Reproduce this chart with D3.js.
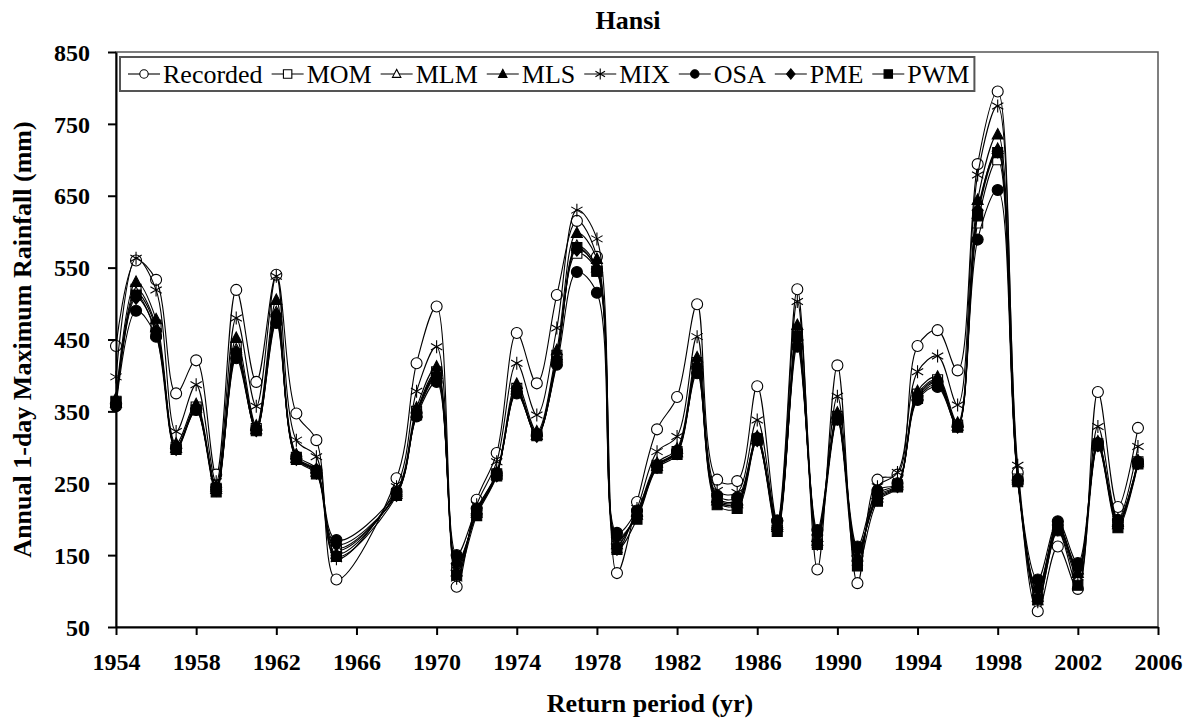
<!DOCTYPE html>
<html>
<head>
<meta charset="utf-8">
<script src="https://cdn.jsdelivr.net/npm/d3@7"></script>
<style>
    body { margin: 0; background: #fff; }
    svg, svg text { font-family: "Liberation Serif", "Times New Roman", serif; }
    .axis path, .axis line { stroke: #000; stroke-width: 2; }
    .axis text { font-family: "Liberation Serif", "Times New Roman", serif; font-size: 24px; font-weight: bold; fill: #000; }
    .series { fill: none; stroke: #000; stroke-width: 1.1; }
</style>
</head>
<body>
<svg id="chart" width="1190" height="721"></svg>
<script>
'use strict';

// years in the record (1966 and 1967 are missing)
const years = [1954, 1955, 1956, 1957, 1958, 1959, 1960, 1961, 1962, 1963, 1964, 1965,
    1968, 1969, 1970, 1971, 1972, 1973, 1974, 1975, 1976, 1977, 1978, 1979, 1980, 1981,
    1982, 1983, 1984, 1985, 1986, 1987, 1988, 1989, 1990, 1991, 1992, 1993, 1994, 1995,
    1996, 1997, 1998, 1999, 2000, 2001, 2002, 2003, 2004, 2005];

const recorded = [441, 560, 533, 375, 421, 262, 519, 391, 540, 347, 310, 116, 257, 417, 496, 106, 227, 292, 459, 389, 512, 615, 565, 125, 224, 325, 370, 499, 255, 253, 385, 198, 520, 130, 414, 111, 255, 262, 441, 463, 407, 694, 795, 265, 72, 162, 103, 377, 217, 327];
const mom = [364, 520, 470, 300, 356, 243, 440, 326, 492, 286, 267, 157, 236, 350, 405, 132, 210, 263, 382, 318, 428, 570, 545, 170, 207, 275, 294, 418, 228, 224, 312, 190, 458, 173, 343, 152, 232, 248, 374, 394, 331, 612, 700, 256, 98, 190, 128, 305, 194, 280];
const mlm = [362, 515, 467, 299, 355, 242, 436, 325, 488, 285, 266, 160, 235, 348, 402, 135, 209, 262, 380, 317, 425, 580, 550, 172, 206, 274, 293, 415, 226, 222, 311, 189, 455, 175, 341, 155, 230, 247, 372, 392, 330, 625, 715, 255, 100, 191, 130, 304, 193, 279];
const mls = [368, 530, 478, 305, 360, 245, 452, 330, 505, 290, 270, 152, 238, 355, 412, 127, 212, 265, 388, 322, 435, 598, 562, 165, 210, 278, 298, 425, 230, 226, 315, 192, 470, 170, 348, 148, 235, 250, 378, 398, 334, 644, 735, 258, 92, 188, 125, 308, 196, 282];
const mix = [398, 563, 519, 322, 387, 252, 480, 357, 538, 310, 287, 145, 245, 378, 440, 118, 220, 280, 417, 345, 466, 630, 590, 158, 215, 294, 315, 454, 240, 237, 338, 195, 503, 165, 371, 140, 245, 265, 405, 427, 359, 679, 775, 275, 85, 185, 120, 329, 200, 301];
const osa = [357, 490, 454, 300, 352, 244, 424, 325, 473, 287, 268, 171, 238, 343, 391, 150, 215, 264, 375, 318, 415, 544, 515, 181, 212, 275, 295, 403, 233, 230, 313, 198, 440, 185, 340, 162, 240, 250, 366, 384, 330, 589, 658, 255, 116, 197, 139, 306, 199, 280];
const pme = [360, 508, 462, 298, 354, 241, 432, 324, 484, 284, 265, 165, 234, 347, 400, 138, 208, 261, 378, 316, 422, 575, 548, 175, 205, 273, 292, 412, 224, 220, 310, 188, 450, 178, 340, 158, 228, 246, 370, 390, 329, 630, 712, 254, 103, 192, 132, 303, 192, 278];
const pwm = [363, 512, 458, 297, 352, 238, 430, 323, 478, 283, 263, 148, 233, 345, 397, 122, 205, 260, 377, 316, 420, 578, 545, 158, 200, 271, 290, 410, 220, 215, 310, 183, 455, 165, 338, 135, 225, 245, 368, 387, 328, 622, 710, 252, 88, 184, 108, 302, 188, 277];

const xTicks = [1954, 1958, 1962, 1966, 1970, 1974, 1978, 1982, 1986, 1990, 1994, 1998, 2002, 2006];
const yTicks = [50, 150, 250, 350, 450, 550, 650, 750, 850];

// legend order, drawn in this order too (PWM on top)
const series = [
    {name: 'Recorded', values: recorded, marker: 'circle', filled: false},
    {name: 'MOM', values: mom, marker: 'square', filled: false},
    {name: 'MLM', values: mlm, marker: 'triangle', filled: false},
    {name: 'MLS', values: mls, marker: 'triangle', filled: true},
    {name: 'MIX', values: mix, marker: 'star', filled: false},
    {name: 'OSA', values: osa, marker: 'circle', filled: true},
    {name: 'PME', values: pme, marker: 'diamond', filled: true},
    {name: 'PWM', values: pwm, marker: 'square', filled: true}
];

const serif = '"Liberation Serif", "Times New Roman", serif';
const svg = d3.select('#chart');
const plotLeft = 116, plotRight = 1158, plotTop = 52, plotBottom = 627;

const x = d3.scaleLinear().domain([1954, 2006]).range([plotLeft, plotRight]);
const y = d3.scaleLinear().domain([50, 850]).range([plotBottom, plotTop]);

// plot frame
svg.append('rect')
    .attr('x', plotLeft).attr('y', plotTop)
    .attr('width', plotRight - plotLeft).attr('height', plotBottom - plotTop)
    .attr('fill', 'none')
    .attr('stroke', '#555')
    .attr('stroke-width', 1.5);

// marker path for a given size (s = half width)
const markerPath = (type, s) => {
    switch (type) {
        case 'circle':
            return d3.symbol(d3.symbolCircle, Math.PI * s * s)();
        case 'square':
            return `M${-s},${-s}H${s}V${s}H${-s}Z`;
        case 'triangle':
            return `M0,${-s * 1.1}L${s},${s * 0.8}L${-s},${s * 0.8}Z`;
        case 'diamond':
            return `M0,${-s * 1.2}L${s},0L0,${s * 1.2}L${-s},0Z`;
        case 'star':
            return `M0,${-s}V${s}M${-s * 0.87},${-s * 0.5}L${s * 0.87},${s * 0.5}M${-s * 0.87},${s * 0.5}L${s * 0.87},${-s * 0.5}`;
    }
};

const markerSize = {circle: 5.5, square: 5, triangle: 5.5, diamond: 5.5, star: 6.5};

const line = d3.line()
    .x(d => x(d.year))
    .y(d => y(d.value))
    .curve(d3.curveCatmullRom.alpha(0.5));

series.forEach(s => {
    const pts = years.map((year, i) => ({year, value: s.values[i]}));
    const g = svg.append('g').attr('class', 'series-group');

    g.append('path')
        .datum(pts)
        .attr('class', 'series')
        .attr('d', line);

    g.selectAll('path.marker')
        .data(pts)
        .enter().append('path')
        .attr('class', 'marker')
        .attr('transform', d => `translate(${x(d.year)},${y(d.value)})`)
        .attr('d', markerPath(s.marker, markerSize[s.marker]))
        .attr('fill', s.marker === 'star' ? 'none' : (s.filled ? '#000' : '#fff'))
        .attr('stroke', '#000')
        .attr('stroke-width', 1.1);
});

// axes
const xAxis = d3.axisBottom(x)
    .tickValues(xTicks)
    .tickFormat(d3.format('d'))
    .tickSize(8)
    .tickSizeOuter(0);

svg.append('g')
    .attr('class', 'axis axis--x')
    .attr('transform', `translate(0,${plotBottom})`)
    .call(xAxis)
    .attr('font-family', serif)
    .selectAll('.tick text')
    .attr('y', 43)
    .attr('dy', 0);

const yAxis = d3.axisLeft(y)
    .tickValues(yTicks)
    .tickSize(8)
    .tickSizeOuter(0);

svg.append('g')
    .attr('class', 'axis axis--y')
    .attr('transform', `translate(${plotLeft},0)`)
    .call(yAxis)
    .attr('font-family', serif)
    .selectAll('.tick text')
    .attr('x', -26)
    .attr('dy', '0.34em');

// titles
svg.append('text')
    .attr('x', 628).attr('y', 29)
    .attr('text-anchor', 'middle')
    .style('font-size', '26px').style('font-weight', 'bold')
    .text('Hansi');

svg.append('text')
    .attr('x', 650).attr('y', 712)
    .attr('text-anchor', 'middle')
    .style('font-size', '26px').style('font-weight', 'bold')
    .text('Return period (yr)');

svg.append('text')
    .attr('transform', `translate(31,${(plotTop + plotBottom) / 2}) rotate(-90)`)
    .attr('text-anchor', 'middle')
    .style('font-size', '26px').style('font-weight', 'bold')
    .text('Annual 1-day Maximum Rainfall (mm)');

// legend
const legend = svg.append('g').attr('class', 'legend');
const legendBox = legend.append('rect')
    .attr('x', 120).attr('y', 57)
    .attr('height', 34)
    .attr('fill', '#fff')
    .attr('stroke', '#555')
    .attr('stroke-width', 2);

let cursor = 128;
const legendY = 74;
series.forEach(s => {
    legend.append('line')
        .attr('x1', cursor).attr('x2', cursor + 32)
        .attr('y1', legendY).attr('y2', legendY)
        .attr('stroke', '#000').attr('stroke-width', 1.1);
    legend.append('path')
        .attr('transform', `translate(${cursor + 16},${legendY})`)
        .attr('d', markerPath(s.marker, s.marker === 'star' ? 5.5 : 4.2))
        .attr('fill', s.marker === 'star' ? 'none' : (s.filled ? '#000' : '#fff'))
        .attr('stroke', '#000').attr('stroke-width', 1.1);
    const t = legend.append('text')
        .attr('x', cursor + 35).attr('y', 82.5)
        .style('font-family', serif)
        .style('font-size', '26px')
        .text(s.name);
    cursor += 35 + t.node().getComputedTextLength() + 9;
});
legendBox.attr('width', cursor - 120 - 4);
</script>
</body>
</html>
